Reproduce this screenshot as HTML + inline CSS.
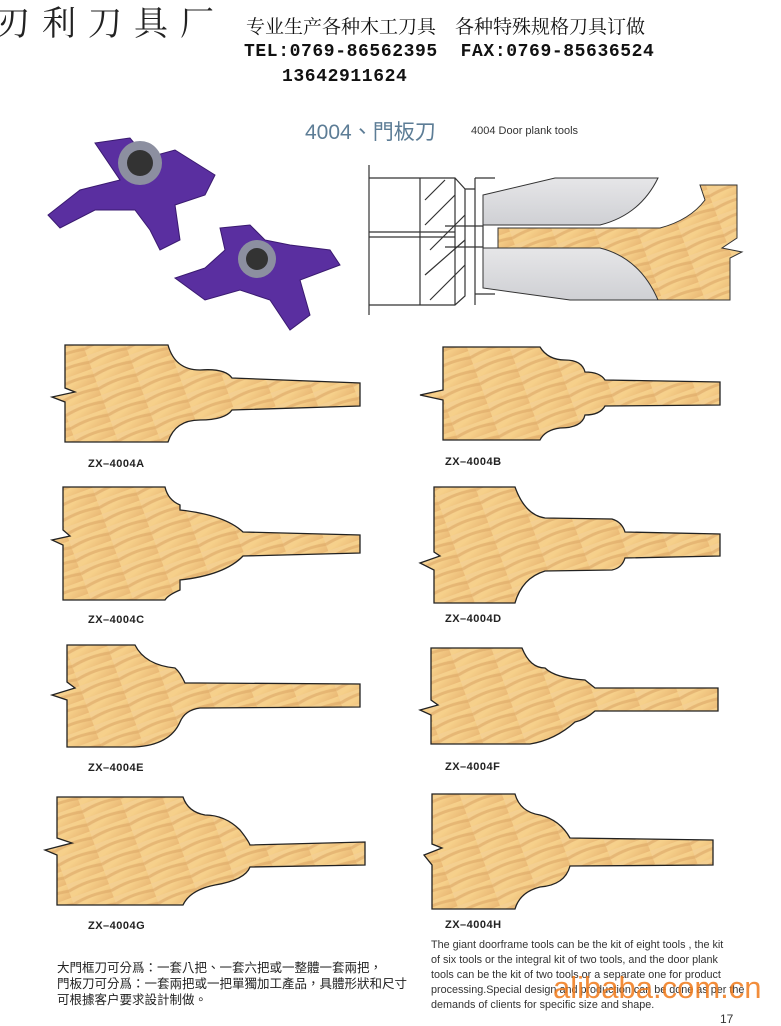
<!DOCTYPE html>
<html><head><meta charset="utf-8"><style>
body{margin:0;width:781px;height:1024px;background:#fff;position:relative;overflow:hidden;font-family:"Liberation Sans","Noto Sans CJK SC",sans-serif}
.t{position:absolute;white-space:nowrap}
.lab{position:absolute;font-size:11px;font-weight:bold;color:#222;letter-spacing:0.5px}
</style></head><body>
<div class="t" style="left:-4px;top:-4px;font-size:34px;letter-spacing:12px;font-family:'Noto Serif CJK SC','Liberation Serif',serif;color:#222">刃利刀具厂</div>
<div class="t" style="left:246px;top:12px;font-size:19px;font-family:'Liberation Serif','Noto Serif CJK SC',serif;color:#111">专业生产各种木工刀具&nbsp;&nbsp;&nbsp;&nbsp;各种特殊规格刀具订做</div>
<div class="t" style="left:244px;top:42px;font-size:18px;font-weight:bold;font-family:'Liberation Mono',monospace;color:#111;letter-spacing:0.6px">TEL:0769-86562395&nbsp;&nbsp;FAX:0769-85636524</div>
<div class="t" style="left:282px;top:67px;font-size:18px;font-weight:bold;font-family:'Liberation Mono',monospace;color:#111;letter-spacing:0.6px">13642911624</div>
<div class="t" style="left:305px;top:116px;font-size:21px;color:#5d7d96;font-family:'Liberation Sans','Noto Sans CJK TC',sans-serif">4004、門板刀</div>
<div class="t" style="left:471px;top:125px;font-size:11px;color:#333">4004 Door plank tools</div>

<svg width="781" height="1024" style="position:absolute;left:0;top:0">
<defs>
<linearGradient id="w" x1="0" y1="0" x2="1" y2="1">
<stop offset="0" stop-color="#f3cf94"/><stop offset=".5" stop-color="#f6d08a"/><stop offset="1" stop-color="#e9b774"/></linearGradient>
<pattern id="g" width="40" height="14" patternUnits="userSpaceOnUse" patternTransform="rotate(-20)">
<rect width="40" height="14" fill="url(#w)"/><path d="M0 7 Q20 3 40 7" stroke="#dca766" stroke-width="3" fill="none" opacity=".6"/></pattern>
<linearGradient id="bl" x1="0" y1="0" x2="0" y2="1"><stop offset="0" stop-color="#e6e6e8"/><stop offset="1" stop-color="#cfd0d4"/></linearGradient>
</defs>
<g fill="#5a2fa0" stroke="#3a1a70" stroke-width="1">
<path d="M95 143 L130 138 L140 150 L120 165 L175 150 L215 175 L205 195 L175 205 L180 240 L160 250 L150 230 L135 210 L95 210 L60 228 L48 215 L80 190 L120 180 Z"/>
<path d="M220 228 L250 225 L265 240 L290 245 L330 250 L340 265 L300 280 L310 315 L290 330 L270 300 L240 290 L205 300 L175 278 L205 268 L225 250 Z"/>
</g>
<circle cx="140" cy="163" r="22" fill="#8c8fa0"/><circle cx="140" cy="163" r="13" fill="#333"/>
<circle cx="257" cy="259" r="19" fill="#8c8fa0"/><circle cx="257" cy="259" r="11" fill="#333"/>
<g stroke="#333" stroke-width="1.2" fill="none">
<path d="M369 165 V315 M369 178 H455 L465 189 V296 L455 305 H369 M369 232 H455 M369 237 H455 M420 178 V305 M465 189 H475 M475 178 V305 M455 178 V305"/>
<path d="M475 178 H495 M475 294 H495 M445 226 H483 V247 H445"/>
<path d="M425 200 L445 180 M425 225 L455 195 M430 250 L465 215 M425 275 L465 240 M430 300 L465 265"/>
</g>
<path d="M498 228 H660 Q690 220 705 200 L700 185 H737 V238 L722 248 L742 252 L730 258 V300 H648 Q610 250 510 252 H498 Z" fill="url(#g)" stroke="#333" stroke-width="1"/>
<path d="M483 195 L555 178 H658 Q640 215 600 225 H483 Z" fill="url(#bl)" stroke="#333"/>
<path d="M483 248 H600 Q640 258 658 300 H570 L483 288 Z" fill="url(#bl)" stroke="#333"/>
<g fill="url(#g)" stroke="#222" stroke-width="1.3">
<path d="M65 345 H168 Q175 370 200 370 Q225 368 232 378 L360 383 V406 L232 410 Q225 420 200 420 Q175 420 168 442 H65 V402 L52 397 L75 392 L65 388 Z"/>
<path d="M443 347 H540 Q548 360 565 360 Q582 360 585 372 Q600 372 605 380 L720 382 V405 L605 406 Q600 415 585 415 Q582 428 560 428 Q545 430 540 440 H443 V400 L420 395 L443 390 Z"/>
<path d="M63 487 H165 Q168 500 180 505 V510 Q225 515 243 532 L360 535 V553 L243 556 Q225 575 180 580 V590 Q168 595 165 600 H63 V545 L52 540 L70 536 L63 530 Z"/>
<path d="M434 487 H515 Q525 515 545 518 L612 519 Q622 522 625 532 L720 534 V556 L625 558 Q622 568 612 570 L545 571 Q522 578 515 603 H434 V570 L420 563 L440 556 L434 552 Z"/>
<path d="M67 645 H135 Q145 665 175 668 Q180 672 185 683 L200 683 L360 684 V707 L200 708 Q185 710 180 722 Q170 745 135 747 H67 V700 L52 695 L75 688 L67 682 Z"/>
<path d="M431 648 H522 Q530 668 545 668 Q555 678 585 680 L595 688 L718 688 V711 L595 711 Q585 720 575 722 Q555 740 530 744 H431 V715 L420 710 L438 705 L431 700 Z"/>
<path d="M57 797 H183 Q188 812 205 815 Q225 815 240 830 Q248 840 250 845 L365 842 V865 L250 867 Q245 880 215 885 Q190 890 183 905 H57 V855 L45 850 L72 843 L57 838 Z"/>
<path d="M432 794 H515 Q520 812 540 815 Q560 820 570 838 L713 840 V865 L570 866 Q565 885 540 887 Q520 892 515 909 H432 V865 L424 855 L442 848 L432 844 Z"/>
</g>
</svg>
<div class="lab" style="left:88px;top:458px">ZX–4004A</div>
<div class="lab" style="left:445px;top:456px">ZX–4004B</div>
<div class="lab" style="left:88px;top:614px">ZX–4004C</div>
<div class="lab" style="left:445px;top:613px">ZX–4004D</div>
<div class="lab" style="left:88px;top:762px">ZX–4004E</div>
<div class="lab" style="left:445px;top:761px">ZX–4004F</div>
<div class="lab" style="left:88px;top:920px">ZX–4004G</div>
<div class="lab" style="left:445px;top:919px">ZX–4004H</div>

<div class="t" style="left:57px;top:960px;font-size:12.5px;line-height:16px;color:#222;font-family:'Liberation Sans','Noto Sans CJK TC',sans-serif">大門框刀可分爲：一套八把、一套六把或一整體一套兩把，<br>門板刀可分爲：一套兩把或一把單獨加工產品，具體形狀和尺寸<br>可根據客户要求設計制做。</div>
<div class="t" style="left:431px;top:938px;font-size:10.8px;line-height:15px;color:#333">The giant doorframe tools can be the kit of eight tools , the kit<br>of six tools or the integral kit of two tools, and the door plank<br>tools can be the kit of two tools or a separate one for product<br>processing.Special design and production can be done as per the<br>demands of clients for specific size and shape.</div>
<div class="t" style="left:553px;top:970px;font-size:31px;color:#f07a1a;opacity:.85">alibaba.com.cn</div>
<div class="t" style="left:720px;top:1012px;font-size:12px;color:#333">17</div>
</body></html>
